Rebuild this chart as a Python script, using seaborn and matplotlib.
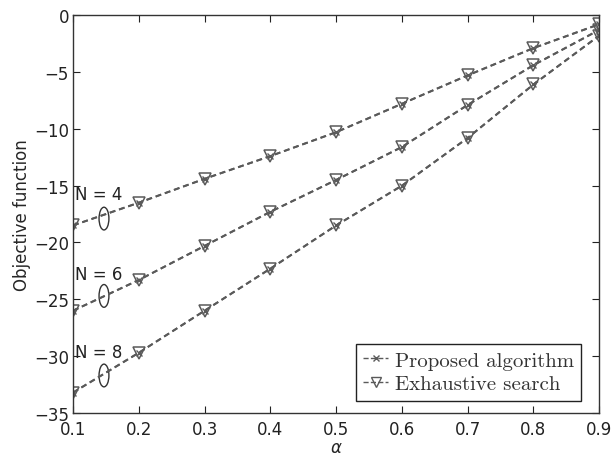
import numpy as np
import pandas as pd
import matplotlib
matplotlib.use("Agg")
import matplotlib.pyplot as plt
from matplotlib.patches import Ellipse
from matplotlib.lines import Line2D
import seaborn as sns

# valores
alpha = [0.1, 0.2, 0.3, 0.4, 0.5, 0.6, 0.7, 0.8, 0.9]
obj_n4 = [-18.5, -16.5, -14.4, -12.4, -10.3, -7.8, -5.3, -2.9, -0.8]
obj_n6 = [-26.0, -23.3, -20.3, -17.3, -14.5, -11.6, -7.9, -4.4, -1.3]
obj_n8 = [-33.2, -29.7, -26.0, -22.3, -18.5, -15.0, -10.8, -6.1, -1.8]
series_labels = ["N = 4", "N = 6", "N = 8"]
legend_labels = ["Proposed algorithm", "Exhaustive search"]

sns.set_style("ticks")
plt.rcParams["font.family"] = ["DejaVu Sans"]

fig = plt.figure(figsize=(6.14, 4.6), dpi=100)
ax = fig.add_axes([0.119, 0.1, 0.857, 0.865])

color = "#5a5a5a"
dash = (3, 2)
for vals in [obj_n4, obj_n6, obj_n8]:
    df = pd.DataFrame({"alpha": alpha, "obj": vals})
    # exhaustive search (triangulos)
    sns.lineplot(data=df, x="alpha", y="obj", ax=ax, color=color,
                 dashes=False, lw=1.4, marker="v", markersize=8.5,
                 markerfacecolor="none", markeredgecolor=color,
                 markeredgewidth=1.1, linestyle=(0, dash))
    # proposed algorithm (cruces), mismos valores
    sns.lineplot(data=df, x="alpha", y="obj", ax=ax, color=color,
                 dashes=False, lw=1.4, marker="x", markersize=5,
                 markeredgecolor=color, markeredgewidth=1.0,
                 linestyle=(0, dash))

# etiquetas N y elipses
for lab, ty, ey in zip(series_labels, [-15.7, -22.8, -29.6], [-17.9, -24.7, -31.7]):
    ax.text(0.103, ty, lab, fontsize=12, ha="left", va="center", color="#222222")
    ax.add_patch(Ellipse((0.147, ey), 0.015, 2.0, fill=False, ec="#333333", lw=1.0))

ax.set_xlim(0.1, 0.9)
ax.set_ylim(-35, 0)
ax.set_xticks(alpha)
ax.set_yticks([-35, -30, -25, -20, -15, -10, -5, 0])
ax.set_yticklabels(["\u221235", "\u221230", "\u221225", "\u221220", "\u221215", "\u221210", "\u22125", "0"])
ax.tick_params(direction="in", top=True, right=True, labelsize=12, colors="#222222",
               length=5, width=0.8, pad=3)
ax.tick_params(axis="x", pad=5)
for s in ax.spines.values():
    s.set_color("#333333")
    s.set_linewidth(1.0)
    s.set_visible(True)

ax.set_xlabel(r"$\alpha$", fontsize=12, labelpad=0)
ax.set_ylabel("Objective function", fontsize=12, labelpad=2)

handles = [
    Line2D([], [], color=color, linestyle="--", marker="x", markersize=5, lw=1.0),
    Line2D([], [], color=color, linestyle="--", marker="v", markersize=7,
           markerfacecolor="none", lw=1.0),
]
leg = ax.legend(handles, legend_labels, loc="lower right", fancybox=False,
                framealpha=1, edgecolor="#222222", handlelength=1.2,
                handletextpad=0.3, borderpad=0.35, labelspacing=0.25,
                prop={"family": "cmr10", "size": 15}, bbox_to_anchor=(0.985, 0.005))
for t in leg.get_texts():
    t.set_color("#333333")
leg.get_frame().set_linewidth(1.0)

fig.savefig("out.png", dpi=100)
